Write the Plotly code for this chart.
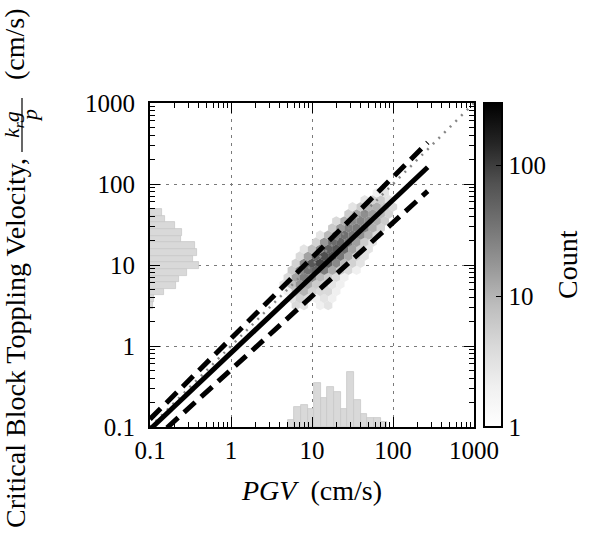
import numpy as np
import plotly.graph_objects as go

# ---------------- data ----------------
# hexbin cells, one row per log10(velocity) level; first cell's log10(PGV); counts (0 = empty)
hex_row_logv = [0.500, 0.587, 0.674, 0.761, 0.848, 0.935, 1.022, 1.109, 1.196,
                1.283, 1.370, 1.457, 1.544, 1.631, 1.718, 1.805, 1.892]
hex_row_logpgv0 = [0.80, 0.75, 0.70, 0.65, 0.70, 0.75, 0.80, 0.85, 0.90,
                   1.05, 1.10, 1.25, 1.30, 1.45, 1.50, 1.65, 1.80]
hex_row_counts = [
    [4, 3, 0, 2, 3],
    [3, 5, 4, 2, 3, 2],
    [2, 7, 10, 5, 4, 4, 2],
    [3, 8, 18, 12, 6, 5, 3, 2],
    [4, 14, 28, 20, 9, 6, 4, 2],
    [6, 20, 38, 50, 28, 12, 6, 4, 2],
    [5, 22, 65, 90, 55, 22, 9, 5, 3],
    [4, 14, 50, 75, 65, 32, 12, 5, 3],
    [3, 8, 22, 55, 65, 38, 14, 6, 3],
    [5, 17, 42, 50, 32, 15, 6, 3],
    [3, 9, 27, 38, 32, 20, 10, 4],
    [6, 16, 27, 30, 22, 11, 5],
    [4, 11, 20, 24, 20, 11, 6],
    [6, 13, 20, 15, 9, 5],
    [3, 6, 10, 11, 7, 4],
    [3, 5, 6, 3],
    [2, 3],
]
HEX_DX = 0.1  # hex column spacing in decades

# fitted relation and bounds (end points, cm/s)
fit_pgv = [0.1, 268.0]
fit_vel = [0.0935, 161.0]
upper_vel = [0.125, 325.0]
lower_vel = [0.063, 81.7]
one_to_one = [0.1, 1000.0]

# marginal histograms (log10 lower edge of first bin, bin width in decades, heights)
pgv_hist_lo = 0.699
pgv_hist_w = 0.082
pgv_hist_counts = [7, 20, 22, 18, 44, 29, 40, 35, 18, 55, 27, 13, 9, 9, 5]
vel_hist_lo = 0.46
vel_hist_w = 0.082
vel_hist_counts = [3, 4, 14, 26, 29, 37, 49, 43, 47, 45, 31, 32, 25, 15, 12]

tick_vals = [0.1, 1, 10, 100, 1000]
tick_text = ["0.1", "1", "10", "100", "1000"]
cbar_vals = [1, 10, 100]
cbar_max = 300

# ---------------- build ----------------
hx, hy, hc = [], [], []
for lv, lx0, counts in zip(hex_row_logv, hex_row_logpgv0, hex_row_counts):
    for i, c in enumerate(counts):
        if c > 0:
            hx.append(10 ** (lx0 + HEX_DX * i))
            hy.append(10 ** lv)
            hc.append(np.log10(c))

greys = [[0, '#ffffff'], [0.125, '#f0f0f0'], [0.25, '#d9d9d9'], [0.375, '#bdbdbd'],
         [0.5, '#969696'], [0.625, '#737373'], [0.75, '#525252'], [0.875, '#252525'],
         [1, '#000000']]

FONT = "Liberation Serif"
FS = 25
FT = 28
FF = 22

fig = go.Figure()

fig.add_trace(go.Scatter(
    x=hx, y=hy, mode="markers",
    marker=dict(symbol="hexagon", size=9.6, color=hc, colorscale=greys,
                cmin=0, cmax=np.log10(cbar_max), line=dict(width=0),
                showscale=True,
                colorbar=dict(
                    x=1.03, xanchor="left", y=0.5, yanchor="middle",
                    len=1, lenmode="fraction", thickness=18, thicknessmode="pixels",
                    xpad=0, ypad=0, outlinewidth=2, outlinecolor="black",
                    tickvals=[np.log10(v) for v in cbar_vals],
                    ticktext=[str(v) for v in cbar_vals],
                    ticks="inside", ticklen=7, tickwidth=1, tickcolor="black",
                    tickfont=dict(family=FONT, size=FS, color="black"),
                )),
    showlegend=False, hoverinfo="skip"))

fig.add_trace(go.Scatter(x=one_to_one, y=one_to_one, mode="lines",
                         line=dict(color="#888888", width=2.5, dash="2px,6px"),
                         showlegend=False))
fig.add_trace(go.Scatter(x=fit_pgv, y=upper_vel, mode="lines",
                         line=dict(color="black", width=5, dash="15px,8px"),
                         showlegend=False))
fig.add_trace(go.Scatter(x=fit_pgv, y=lower_vel, mode="lines",
                         line=dict(color="black", width=5, dash="15px,8px"),
                         showlegend=False))
fig.add_trace(go.Scatter(x=fit_pgv, y=fit_vel, mode="lines",
                         line=dict(color="black", width=5),
                         showlegend=False))

# marginal histograms
pgv_centers = [pgv_hist_lo + pgv_hist_w * (i + 0.5) for i in range(len(pgv_hist_counts))]
vel_centers = [vel_hist_lo + vel_hist_w * (i + 0.5) for i in range(len(vel_hist_counts))]
fig.add_trace(go.Bar(x=pgv_centers, y=pgv_hist_counts, width=pgv_hist_w,
                     marker=dict(color="#d9d9d9", line=dict(color="#c8c8c8", width=0.8)),
                     xaxis="x2", yaxis="y3", showlegend=False))
fig.add_trace(go.Bar(y=vel_centers, x=vel_hist_counts, width=vel_hist_w, orientation="h",
                     marker=dict(color="#d9d9d9", line=dict(color="#c8c8c8", width=0.8)),
                     xaxis="x3", yaxis="y2", showlegend=False))

minor_vals = [m * 10 ** e for e in range(-1, 3) for m in range(2, 10)]

def axis_style(standoff):
    return dict(
        type="log", range=[-1, 3], tickvals=tick_vals, ticktext=tick_text,
        ticks="inside", ticklen=10, tickwidth=1.2, tickcolor="black",
        showline=True, linecolor="black", linewidth=2, mirror="allticks",
        showgrid=True, gridcolor="#7a7a7a", gridwidth=1, griddash="3px,5px",
        zeroline=False, ticklabelstandoff=standoff,
        tickfont=dict(family=FONT, size=FS, color="black"),
        minor=dict(tickvals=minor_vals, ticks="inside", ticklen=5, tickwidth=1,
                   tickcolor="black", showgrid=False),
    )

fig.update_layout(
    width=592, height=534,
    margin=dict(l=150, r=118, t=103, b=107, autoexpand=False),
    paper_bgcolor="white", plot_bgcolor="white",
    font=dict(family=FONT, size=FS, color="black"),
    xaxis=axis_style(0),
    yaxis=axis_style(8),
    xaxis2=dict(overlaying="x", anchor="y3", range=[-1, 3], visible=False),
    yaxis3=dict(overlaying="y", anchor="x2", range=[0, 324], visible=False),
    xaxis3=dict(overlaying="x", anchor="y2", range=[0, 324], visible=False),
    yaxis2=dict(overlaying="y", anchor="x3", range=[-1, 3], visible=False),
    bargap=0,
)

def px2x(X):
    return (X - 150) / 324

def px2y(Y):
    return (427 - Y) / 324

tfont = dict(family=FONT, size=FT, color="black")
ffont = dict(family=FONT, size=FF, color="black")
fig.add_annotation(text="<i>PGV</i>  (cm/s)", xref="paper", yref="paper",
                   x=px2x(311), y=px2y(490), xanchor="center", yanchor="middle",
                   showarrow=False, font=tfont)
fig.add_annotation(text="Count", xref="paper", yref="paper",
                   x=px2x(567), y=px2y(265), xanchor="center", yanchor="middle",
                   textangle=-90, showarrow=False, font=tfont)
fig.add_annotation(text="Critical Block Toppling Velocity,", xref="paper", yref="paper",
                   x=px2x(15), y=px2y(343), xanchor="center", yanchor="middle",
                   textangle=-90, showarrow=False, font=tfont)
fig.add_annotation(text="<i>k<sub>r</sub>g</i>", xref="paper", yref="paper",
                   x=px2x(13), y=px2y(125), xanchor="center", yanchor="middle",
                   textangle=-90, showarrow=False, font=ffont, borderpad=0)
fig.add_annotation(text="<i>p</i>", xref="paper", yref="paper",
                   x=px2x(30), y=px2y(116), xanchor="center", yanchor="middle",
                   textangle=-90, showarrow=False, font=ffont, borderpad=0)
fig.add_annotation(text="(cm/s)", xref="paper", yref="paper",
                   x=px2x(14), y=px2y(44), xanchor="center", yanchor="middle",
                   textangle=-90, showarrow=False, font=tfont)
fig.add_shape(type="line", xref="paper", yref="paper",
              x0=px2x(22), x1=px2x(22), y0=px2y(98), y1=px2y(152),
              line=dict(color="black", width=1.2))

fig.write_html("out.html", config={"displayModeBar": False},
               post_script="document.body.style.margin='0';document.body.style.padding='0';")
